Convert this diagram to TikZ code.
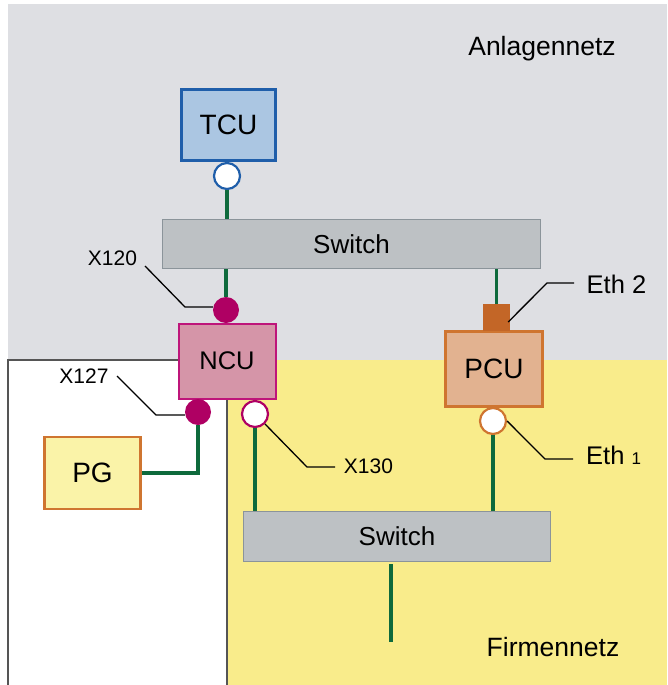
\documentclass[tikz,border=0pt]{standalone}
\usepackage{fontspec}
\setmainfont{Liberation Sans}
\definecolor{bggray}{HTML}{DEDFE3}
\definecolor{yellowbg}{HTML}{F9EC8B}
\definecolor{swfill}{HTML}{BDC1C4}
\definecolor{swborder}{HTML}{8B949A}
\definecolor{tcufill}{HTML}{ABC6E2}
\definecolor{tcuborder}{HTML}{1F5EAA}
\definecolor{ncufill}{HTML}{D595A8}
\definecolor{ncuborder}{HTML}{BE157A}
\definecolor{portmag}{HTML}{AF0063}
\definecolor{pcufill}{HTML}{E2B290}
\definecolor{pcuborder}{HTML}{CF7530}
\definecolor{pgfill}{HTML}{FAF3A8}
\definecolor{ethcol}{HTML}{C36627}
\definecolor{netgreen}{HTML}{0E6A3C}
\definecolor{framecol}{HTML}{555555}
\begin{document}
\begin{tikzpicture}[x=1pt,y=-1pt,
  unitbox/.style={draw, line width=2.5pt, inner sep=0pt, font=\fontsize{28}{30}\selectfont},
  switchbox/.style={draw=swborder, fill=swfill, line width=1.8pt, inner sep=0pt, font=\fontsize{26}{28}\selectfont},
  port/.style={circle, inner sep=0pt, minimum size=26pt},
  openport/.style={port, fill=white, line width=2.2pt},
  fullport/.style={port, fill=portmag},
  net/.style={draw=netgreen, line width=3.2pt},
  leader/.style={draw=black, line width=1.3pt},
  lbl/.style={font=\fontsize{21}{23}\selectfont, anchor=base, inner sep=0pt},
  biglbl/.style={font=\fontsize{26.5}{28}\selectfont, anchor=base, inner sep=0pt}]
\useasboundingbox (0,0) rectangle (667,685);
% backgrounds
\fill[bggray] (8,4) rectangle (667,360);
\fill[white] (8,360) rectangle (227,685);
\fill[yellowbg] (227,360) rectangle (667,685);
\draw[framecol, line width=1.6pt] (8,685) -- (8,360) -- (227,360) -- (227,685);
% region labels
\node[biglbl] (anl) at (542,56) {Anlagennetz};
\node[biglbl] (firm) at (553,656.5) {Firmennetz};
% units
\node[unitbox, draw=tcuborder, fill=tcufill, minimum width=94pt, minimum height=71pt] (tcu) at (228.5,125) {TCU};
\node[openport, draw=tcuborder] (tcup) at (227,176) {};
\node[switchbox, minimum width=378pt, minimum height=49pt] (sw1) at (351.5,244) {Switch};
\node[unitbox, draw=ncuborder, fill=ncufill, line width=2pt, minimum width=97pt, minimum height=75pt, font=\fontsize{25.5}{27}\selectfont] (ncu) at (227,361) {NCU};
\node[fullport] (n120) at (226,310) {};
\node[fullport] (n127) at (198,412) {};
\node[openport, draw=portmag] (n130) at (255,414) {};
\node[unitbox, draw=pcuborder, fill=pgfill, minimum width=96pt, minimum height=72pt] (pg) at (92.5,473) {PG};
\node[switchbox, minimum width=307pt, minimum height=50pt] (sw2) at (397,536.5) {Switch};
\node[unitbox, draw=pcuborder, fill=pcufill, minimum width=97pt, minimum height=75pt] (pcu) at (494,369) {PCU};
\node[fill=ethcol, inner sep=0pt, minimum width=27pt, minimum height=27pt] (eth2) at (496.5,317.5) {};
\node[openport, draw=pcuborder] (eth1) at (493,421) {};
% network lines
\draw[net] (tcup.south) -- (tcup.south |- sw1.north);
\draw[net] (sw1.south -| n120) -- (n120.north);
\draw[net] (sw1.south -| eth2) -- (eth2.north);
\draw[net] (n127.south) -- (n127.south |- pg.east) -- (pg.east);
\draw[net] (n130.south) -- (n130.south |- sw2.north);
\draw[net] (eth1.south) -- (eth1.south |- sw2.north);
\coordinate (fn) at (391,642);
\draw[net] ([yshift=-2pt]sw2.south -| fn) -- (fn);
% port labels
\node[lbl] (x120) at (112.5,265) {X120};
\node[lbl] (x127) at (84,383) {X127};
\node[lbl] (x130) at (368.5,473.3) {X130};
\node[font=\fontsize{25.5}{27}\selectfont, anchor=base, inner sep=0pt] (leth2) at (616.5,293) {Eth 2};
\node[font=\fontsize{25.5}{27}\selectfont, anchor=base west, inner sep=0pt] (leth1) at (586,464) {Eth {\fontsize{17}{18}\selectfont 1}};
% leaders
\coordinate (a120) at (145,266);
\coordinate (b120) at (185,307);
\draw[leader] (a120) -- (b120) -- (b120 -| n120.west);
\coordinate (a127) at (117,376);
\coordinate (b127) at (156,415);
\draw[leader] (a127) -- (b127) -- (b127 -| n127.west);
\coordinate (b130) at (307,467);
\coordinate (c130) at (335,467);
\draw[leader] (n130.south east) -- (b130) -- (c130);
\coordinate (b2) at (547,283);
\coordinate (c2) at (574,283);
\draw[leader] ([shift={(-2,4.5)}]eth2.east) -- (b2) -- (c2);
\coordinate (b1) at (545,459);
\coordinate (c1) at (573,459);
\draw[leader] (eth1.east) -- (b1) -- (c1);
\end{tikzpicture}
\end{document}
